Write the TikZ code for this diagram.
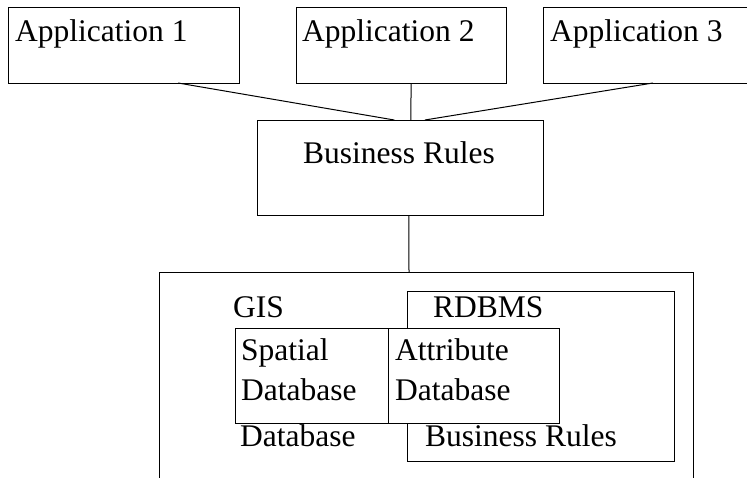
\documentclass[tikz,border=0pt]{standalone}
\usepackage{fontspec}
\setmainfont{Liberation Serif}
\usetikzlibrary{calc}
\begin{document}
\begin{tikzpicture}[x=1pt,y=-1pt,
 box/.style={draw,line width=1pt,inner sep=0pt,outer sep=0pt,anchor=north west,fill=white},
 txt/.style={inner sep=0pt,anchor=base west,font=\fontsize{31.5}{36}\selectfont},
 conn/.style={line width=1pt}]
\useasboundingbox (0,0) rectangle (747,477);
% top boxes
\node[box,minimum width=231pt,minimum height=76pt] (app1) at (8,7) {};
\node[box,minimum width=210pt,minimum height=76pt] (app2) at (296,7) {};
\node[box,minimum width=206pt,minimum height=76pt] (app3) at (543,7) {};
\node[box,minimum width=286pt,minimum height=95pt] (br) at (257,120) {};
\node[txt] (t1) at (15,41) {Application 1};
\node[txt] (t2) at (302,41) {Application 2};
\node[txt] (t3) at (550,41) {Application 3};
\node[txt] (tbr) at (303,163) {Business Rules};
% big container (open at bottom)
\coordinate (bigbl) at (159,478);
\coordinate (bigtl) at (159,272);
\coordinate (bigtr) at (693,272);
\coordinate (bigbr) at (693,478);
\coordinate (bigin) at (409,272);
\draw[conn] (bigbl) -- (bigtl) -- (bigtr) -- (bigbr);
% inner boxes
\node[box,minimum width=267pt,minimum height=170pt] (rdbms) at (407,291) {};
\node[box,minimum width=153pt,minimum height=95pt] (spatial) at (235,328) {};
\node[box,minimum width=171pt,minimum height=95pt] (attr) at (388,328) {};
\node[txt] (gis) at (233,317) {GIS};
\node[txt] (trd) at (433,317) {RDBMS};
\node[txt] (ts1) at (241,360) {Spatial};
\node[txt] (ts2) at (241,400) {Database};
\node[txt] (ta1) at (395,360) {Attribute};
\node[txt] (ta2) at (395,400) {Database};
\node[txt] (tdb) at (240,446) {Database};
\node[txt] (tbr2) at (425,446) {Business Rules};
% connectors
\draw[conn] ($(app1.south west)!0.736!(app1.south east)$) -- ($(br.north west)!0.48!(br.north east)$);
\draw[conn] ($(app2.south west)!0.548!(app2.south east)$) -- ($(br.north west)!0.538!(br.north east)$);
\draw[conn] ($(app3.south west)!0.534!(app3.south east)$) -- ($(br.north west)!0.587!(br.north east)$);
\draw[conn] ($(br.south west)!0.531!(br.south east)$) -- (bigin);
\end{tikzpicture}
\end{document}
